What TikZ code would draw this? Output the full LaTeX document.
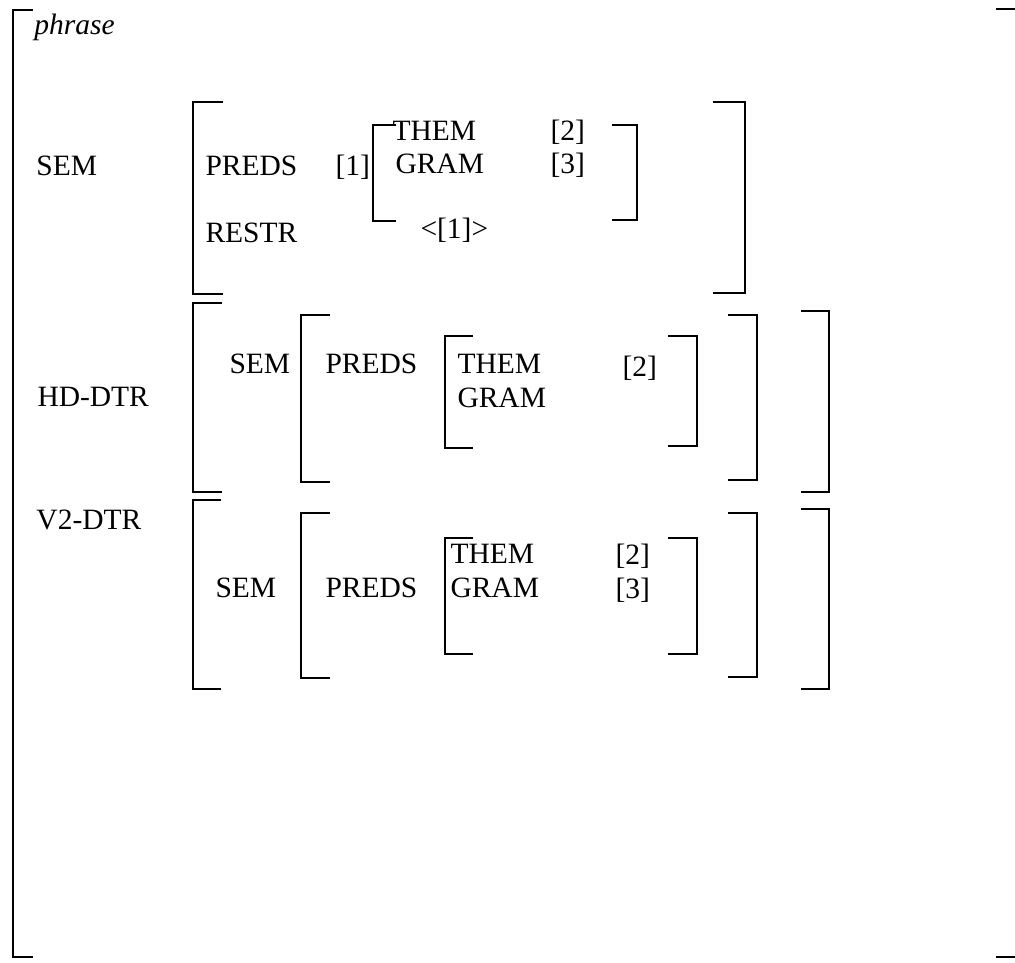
\documentclass[tikz,border=0pt]{standalone}
\usepackage{fontspec}
\setmainfont{Liberation Serif}
\tikzset{
  brk/.style={line width=0.8pt},
  lbl/.style={anchor=base west, inner sep=0pt, font=\fontsize{11.8}{14}\selectfont},
}
\newcommand{\lbrk}[4]{\draw[brk] (#1+#4,#2) -- (#1,#2) -- (#1,#3) -- (#1+#4,#3);}
\newcommand{\rbrk}[4]{\draw[brk] (#1-#4,#2) -- (#1,#2) -- (#1,#3) -- (#1-#4,#3);}

\begin{document}
\begin{tikzpicture}[x=0.4pt, y=-0.4pt]
\clip (0,0) rectangle (1015,962);

\node[lbl, font=\fontsize{11.8}{14}\selectfont\itshape] (phrase) at (34,34) {phrase};
\node[lbl] (sem) at (36,175) {SEM};
\node[lbl] (preds) at (205,175) {PREDS};
\node[lbl] (restr) at (205,242) {RESTR};
\node[lbl] (t1) at (335,175) {[1]};
\node[lbl] (them) at (392,140) {THEM};
\node[lbl] (gram) at (395,173) {GRAM};
\node[lbl] (t2) at (550,140) {[2]};
\node[lbl] (t3) at (550,173) {[3]};
\node[lbl] (lst) at (420,238) {<[1]>};

\node[lbl] (hd) at (37,406) {HD-DTR};
\node[lbl] (hdsem) at (229,373) {SEM};
\node[lbl] (hdpreds) at (325,373) {PREDS};
\node[lbl] (hdthem) at (457,373) {THEM};
\node[lbl] (hdgram) at (457,407) {GRAM};
\node[lbl] (hdt2) at (622,376) {[2]};

\node[lbl] (vt) at (36,529) {V2-DTR};
\node[lbl] (vtsem) at (215,597) {SEM};
\node[lbl] (vtpreds) at (325,597) {PREDS};
\node[lbl] (vtthem) at (450,563) {THEM};
\node[lbl] (vtgram) at (450,597) {GRAM};
\node[lbl] (vtt2) at (615,564) {[2]};
\node[lbl] (vtt3) at (615,598) {[3]};

\lbrk{13}{10}{957}{20}
\draw[brk] (996,9) -- (1015,9);
\draw[brk] (996,957) -- (1015,957);

\lbrk{193}{102}{294}{30}
\rbrk{745}{102}{293}{32}
\lbrk{373}{125}{221}{23}
\rbrk{637}{125}{220}{25}

\lbrk{193}{303}{492}{29}
\rbrk{829}{311}{492}{28}
\lbrk{301}{315}{482}{29}
\rbrk{757}{315}{480}{29}
\lbrk{445}{336}{448}{28}
\rbrk{697}{336}{446}{29}

\lbrk{193}{500}{689}{28}
\rbrk{829}{509}{689}{28}
\lbrk{301}{513}{678}{29}
\rbrk{757}{513}{677}{29}
\lbrk{445}{538}{654}{28}
\rbrk{697}{538}{654}{29}
\end{tikzpicture}
\end{document}
